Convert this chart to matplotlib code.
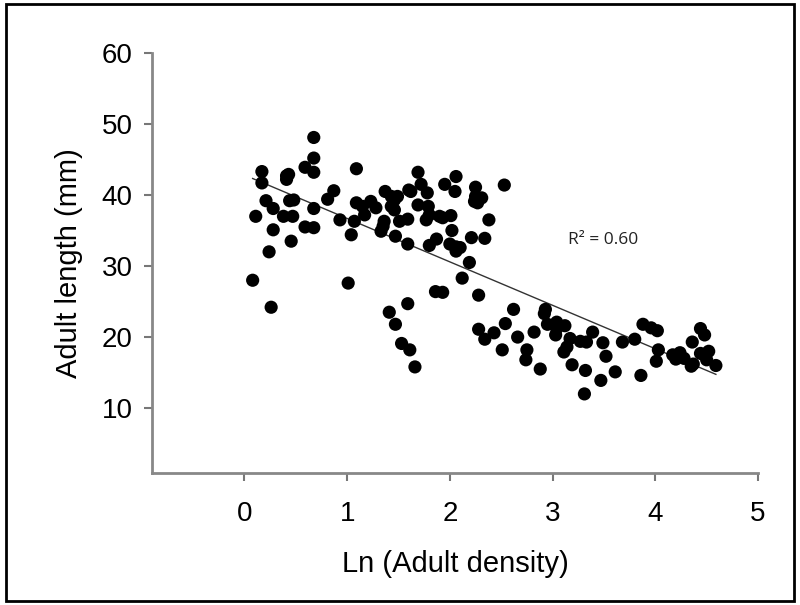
import numpy as np
import matplotlib
matplotlib.use("Agg")
import matplotlib.pyplot as plt
from matplotlib.patches import Rectangle

ln_density = [
    0.08, 0.11, 0.17, 0.17, 0.21, 0.24, 0.26, 0.28, 0.28, 0.38, 0.41, 0.43, 0.41,
    0.44, 0.48, 0.47, 0.455, 0.59, 0.59, 0.675, 0.675, 0.675, 0.675, 0.675, 0.81, 0.87, 0.93,
    1.01, 1.04, 1.07, 1.09, 1.09, 1.15, 1.17, 1.23, 1.28, 1.33, 1.35, 1.36, 1.37, 1.41,
    1.43, 1.43, 1.46, 1.46, 1.47, 1.47, 1.49, 1.51, 1.53, 1.59, 1.59, 1.59, 1.60, 1.62,
    1.61, 1.66, 1.69, 1.69, 1.72, 1.77, 1.78, 1.79, 1.80, 1.80, 1.86, 1.87, 1.90, 1.93,
    1.93, 1.95, 2.00, 2.01, 2.02, 2.05, 2.06, 2.06, 2.06, 2.10, 2.12, 2.19, 2.21, 2.24,
    2.25, 2.25, 2.27, 2.28, 2.28, 2.31, 2.34, 2.34, 2.38, 2.43, 2.51, 2.53, 2.54, 2.62,
    2.66, 2.74, 2.75, 2.82, 2.88, 2.92, 2.93, 2.95, 3.03, 3.04, 3.04, 3.11, 3.12, 3.14,
    3.17, 3.19, 3.27, 3.31, 3.32, 3.33, 3.39, 3.47, 3.49, 3.52, 3.61, 3.68, 3.80, 3.86,
    3.88, 3.96, 4.02, 4.03, 4.01, 4.17, 4.20, 4.24, 4.28, 4.35, 4.37, 4.36, 4.44, 4.48,
    4.44, 4.50, 4.52, 4.59,
]
adult_length = [
    28.0, 37.0, 43.3, 41.7, 39.2, 32.0, 24.2, 38.1, 35.1, 37.0, 42.7, 42.9, 42.2,
    39.2, 39.3, 37.0, 33.5, 43.9, 35.5, 48.1, 45.2, 43.2, 38.1, 35.4, 39.4, 40.6, 36.5,
    27.6, 34.4, 36.3, 43.7, 38.9, 38.4, 37.2, 39.1, 38.2, 34.9, 35.6, 36.3, 40.5, 23.5,
    39.8, 38.4, 39.3, 37.9, 34.2, 21.8, 39.8, 36.3, 19.1, 36.6, 33.1, 24.7, 40.7, 40.5,
    18.2, 15.8, 43.2, 38.6, 41.5, 36.5, 40.3, 38.4, 37.2, 32.9, 26.4, 33.8, 37.0, 36.8,
    26.3, 41.5, 33.1, 37.1, 35.0, 40.5, 42.6, 32.7, 32.1, 32.6, 28.3, 30.5, 34.0, 39.1,
    41.1, 39.8, 38.9, 25.9, 21.1, 39.6, 33.9, 19.7, 36.5, 20.6, 18.2, 41.4, 21.9, 23.9,
    20.0, 16.8, 18.2, 20.7, 15.5, 23.3, 23.9, 21.8, 20.3, 22.1, 21.2, 17.9, 21.6, 18.6,
    19.8, 16.1, 19.4, 12.0, 15.3, 19.3, 20.7, 13.9, 19.2, 17.3, 15.1, 19.3, 19.7, 14.6,
    21.8, 21.3, 20.9, 18.2, 16.6, 17.5, 16.9, 17.8, 17.0, 15.9, 16.2, 19.3, 21.2, 20.3,
    17.7, 16.8, 18.0, 16.0,
]
x_ticks = [0, 1, 2, 3, 4, 5]
y_ticks = [10, 20, 30, 40, 50, 60]
r2_label = "R² = 0.60"

x = np.array(ln_density)
y = np.array(adult_length)

plt.rcParams['font.family'] = ['Liberation Sans', 'DejaVu Sans']

fig = plt.figure(figsize=(8, 6.05), dpi=100)
ax = fig.add_axes([0.19, 0.218, 0.7575, 0.6945])

ax.scatter(x, y, s=90, color='black', edgecolors='none', zorder=3)

slope, intercept = np.polyfit(x, y, 1)
xl = np.array([x.min(), x.max()])
ax.plot(xl, intercept + slope * xl, color='#333333', lw=1.0, zorder=2)

ax.set_xlim(-0.9, 5)
ax.set_ylim(0.85, 60)
ax.set_xticks(x_ticks)
ax.set_yticks(y_ticks)
ax.tick_params(labelsize=20, length=6, width=1.5, color='#777777', pad=14)
ax.tick_params(axis='y', pad=8)
for s in ['top', 'right']:
    ax.spines[s].set_visible(False)
for s in ['left', 'bottom']:
    ax.spines[s].set_color('#888888')
    ax.spines[s].set_linewidth(2)

ax.set_xlabel("Ln (Adult density)", fontsize=21, labelpad=17)
ax.set_ylabel("Adult length (mm)", fontsize=21, labelpad=13)

ax.text(3.49, 33.7, r2_label, fontsize=12.5, family=['Open Sans', 'DejaVu Sans'],
        va='center', ha='center', color='#222222')

fig.patches.append(Rectangle((0.007, 0.007), 0.986, 0.986, transform=fig.transFigure,
                             fill=False, edgecolor='black', linewidth=2))

fig.savefig("out.png", dpi=100, facecolor='white')
